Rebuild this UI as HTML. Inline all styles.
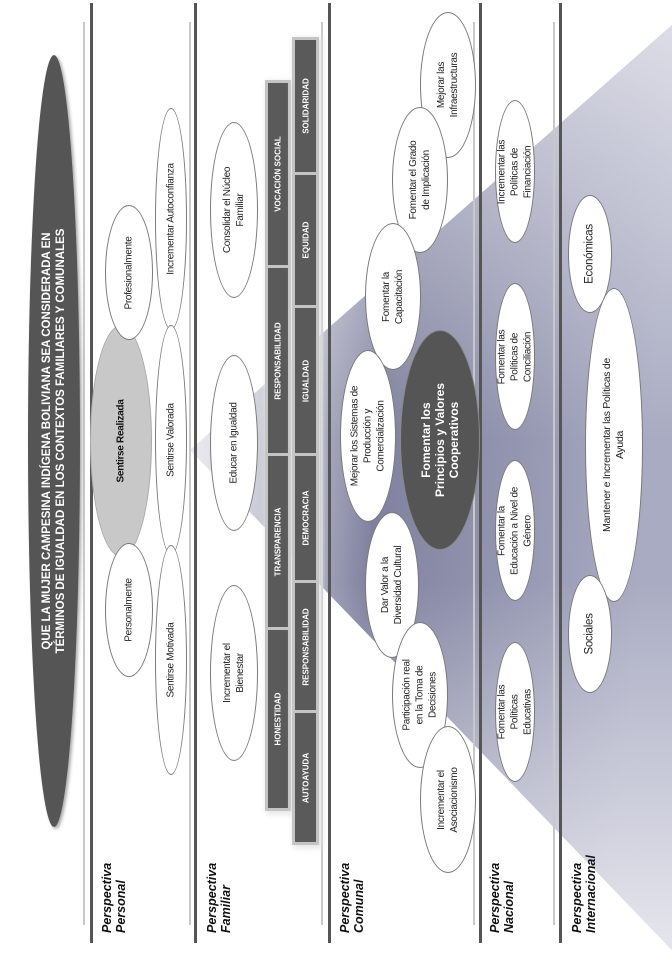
<!DOCTYPE html>
<html><head><meta charset="utf-8">
<style>
body{margin:0;width:672px;height:973px;position:relative;overflow:hidden;background:#fff;font-family:"Liberation Sans",sans-serif;}
.a{position:absolute}
.e{position:absolute;border-radius:50%;border:1px solid #7a7a7a;background:#fff;box-sizing:border-box}
.t{position:absolute;left:50%;top:50%;transform:translate(-50%,-50%) rotate(-90deg);text-align:center;font-size:10px;line-height:13px;color:#222;letter-spacing:-0.3px}
.dl{position:absolute;width:3px;background:#555}
.ll{position:absolute;width:2px;background:#c8c8c8}
.p{position:absolute;transform-origin:0 0;transform:rotate(-90deg);font-weight:bold;font-style:italic;font-size:12.5px;line-height:14px;white-space:nowrap;color:#111}
.bar{position:absolute;background:#5a5a5a;box-shadow:0 0 0 3px #c4c4c4,2px 2px 6px 4px #e4e4e4}
.seg{position:absolute;left:0;width:100%;border-top:3px solid #c4c4c4;box-sizing:border-box}
.seg span{position:absolute;left:50%;top:50%;transform:translate(-50%,-50%) rotate(-90deg);color:#fff;font-weight:bold;font-size:8px;white-space:nowrap}
</style></head><body>
<svg class="a" style="left:0;top:0" width="672" height="973">
<defs>
<linearGradient id="g" x1="0" y1="0" x2="1" y2="0.15">
<stop offset="0" stop-color="#d8d8e0" stop-opacity="0.3"/>
<stop offset="0.45" stop-color="#7f819f"/>
<stop offset="1" stop-color="#a9abc2"/>
</linearGradient>
<linearGradient id="g2" x1="0" y1="0" x2="0" y2="1">
<stop offset="0" stop-color="#fff" stop-opacity="0.6"/>
<stop offset="0.45" stop-color="#fff" stop-opacity="0"/>
<stop offset="0.6" stop-color="#fff" stop-opacity="0"/>
<stop offset="1" stop-color="#fff" stop-opacity="0.7"/>
</linearGradient>
</defs>
<polygon points="190,450 672,25 672,950" fill="url(#g)"/>
<polygon points="190,450 672,25 672,950" fill="url(#g2)"/>
</svg>

<div class="dl" style="left:90px;top:3px;height:940px"></div>
<div class="ll" style="left:83px;top:22px;height:903px"></div>
<div class="dl" style="left:194px;top:3px;height:940px"></div>
<div class="ll" style="left:189px;top:22px;height:903px"></div>
<div class="dl" style="left:328px;top:3px;height:940px"></div>
<div class="ll" style="left:321px;top:22px;height:903px"></div>
<div class="dl" style="left:479px;top:3px;height:940px"></div>
<div class="ll" style="left:473px;top:22px;height:903px"></div>
<div class="dl" style="left:559px;top:3px;height:940px"></div>
<div class="ll" style="left:553px;top:22px;height:903px"></div>

<div class="e" style="left:28px;top:55px;width:52px;border:none;background:#555;box-shadow:2px 2px 3px #aaa;height:772px"><div class="t" style="width:700px;color:#fff;font-weight:bold;font-size:11.5px;line-height:14px;letter-spacing:0">QUE LA MUJER CAMPESINA INDÍGENA BOLIVIANA SEA CONSIDERADA EN<br>TÉRMINOS DE IGUALDAD EN LOS CONTEXTOS FAMILIARES Y COMUNALES</div></div>

<div class="e" style="left:90px;top:325px;width:62px;height:232px;background:#c8c8c8;border-color:#aaa"><div class="t" style="width:200px;font-weight:bold;font-size:10px;color:#111">Sentirse Realizada</div></div>
<div class="e" style="left:105px;top:205px;width:48px;height:135px"><div class="t" style="width:120px">Profesionalmente</div></div>
<div class="e" style="left:105px;top:543px;width:48px;height:134px"><div class="t" style="width:120px">Personalmente</div></div>
<div class="e" style="left:155px;top:108px;width:32px;height:222px"><div class="t" style="width:200px">Incrementar Autoconfianza</div></div>
<div class="e" style="left:155px;top:325px;width:32px;height:230px"><div class="t" style="width:200px">Sentirse Valorada</div></div>
<div class="e" style="left:155px;top:545px;width:32px;height:230px"><div class="t" style="width:200px">Sentirse Motivada</div></div>

<div class="e" style="left:210px;top:122px;width:48px;height:176px"><div class="t" style="width:110px">Consolidar el Núcleo Familiar</div></div>
<div class="e" style="left:210px;top:355px;width:48px;height:176px"><div class="t" style="width:150px">Educar en Igualdad</div></div>
<div class="e" style="left:210px;top:585px;width:48px;height:176px"><div class="t" style="width:75px">Incrementar el Bienestar</div></div>

<div class="bar" style="left:268px;top:83px;width:20px;height:725px">
<div class="seg" style="top:0;height:182px;border-top:none"><span>VOCACIÓN SOCIAL</span></div>
<div class="seg" style="top:182px;height:188px"><span>RESPONSABILIDAD</span></div>
<div class="seg" style="top:370px;height:174px"><span>TRANSPARENCIA</span></div>
<div class="seg" style="top:544px;height:181px"><span>HONESTIDAD</span></div>
</div>
<div class="bar" style="left:295px;top:40px;width:21px;height:802px">
<div class="seg" style="top:0;height:132px;border-top:none"><span>SOLIDARIDAD</span></div>
<div class="seg" style="top:132px;height:133px"><span>EQUIDAD</span></div>
<div class="seg" style="top:265px;height:148px"><span>IGUALDAD</span></div>
<div class="seg" style="top:413px;height:127px"><span>DEMOCRACIA</span></div>
<div class="seg" style="top:540px;height:130px"><span>RESPONSABILIDAD</span></div>
<div class="seg" style="top:670px;height:132px"><span>AUTOAYUDA</span></div>
</div>

<div class="e" style="left:400px;top:330px;width:80px;height:220px;background:#555;border-color:#888"><div class="t" style="width:200px;color:#fff;font-weight:bold;font-size:12px;line-height:14px;letter-spacing:0">Fomentar los<br>Principios y Valores<br>Cooperativos</div></div>
<div class="e" style="left:420px;top:12px;width:56px;height:146px"><div class="t" style="width:80px">Mejorar las Infraestructuras</div></div>
<div class="e" style="left:392px;top:107px;width:56px;height:146px"><div class="t" style="width:90px">Fomentar el Grado de Implicación</div></div>
<div class="e" style="left:365px;top:223px;width:56px;height:147px"><div class="t" style="width:90px">Fomentar la Capacitación</div></div>
<div class="e" style="left:340px;top:350px;width:56px;height:172px"><div class="t" style="width:115px">Mejorar los Sistemas de Producción y Comercialización</div></div>
<div class="e" style="left:365px;top:512px;width:54px;height:146px"><div class="t" style="width:88px">Dar Valor a la Diversidad Cultural</div></div>
<div class="e" style="left:392px;top:622px;width:56px;height:146px"><div class="t" style="width:80px">Participación real en la Toma de Decisiones</div></div>
<div class="e" style="left:420px;top:726px;width:56px;height:147px"><div class="t" style="width:90px">Incrementar el Asociacionismo</div></div>

<div class="e" style="left:495px;top:100px;width:40px;height:143px"><div class="t" style="width:80px">Incrementar las Políticas de Financiación</div></div>
<div class="e" style="left:495px;top:283px;width:40px;height:147px"><div class="t" style="width:80px">Fomentar las Políticas de Conciliación</div></div>
<div class="e" style="left:495px;top:460px;width:40px;height:141px"><div class="t" style="width:88px">Fomentar la Educación a Nivel de Género</div></div>
<div class="e" style="left:495px;top:642px;width:40px;height:140px"><div class="t" style="width:75px">Fomentar las Políticas Educativas</div></div>

<div class="e" style="left:585px;top:288px;width:58px;height:314px"><div class="t" style="width:200px;font-size:10.5px">Mantener e Incrementar las Políticas de Ayuda</div></div>
<div class="e" style="left:568px;top:195px;width:44px;height:118px"><div class="t" style="width:100px;font-size:11.5px">Económicas</div></div>
<div class="e" style="left:568px;top:575px;width:44px;height:118px"><div class="t" style="width:100px;font-size:11.5px">Sociales</div></div>

<div class="p" style="left:100px;top:933px">Perspectiva<br>Personal</div>
<div class="p" style="left:205px;top:933px">Perspectiva<br>Familiar</div>
<div class="p" style="left:338px;top:933px">Perspectiva<br>Comunal</div>
<div class="p" style="left:488px;top:933px">Perspectiva<br>Nacional</div>
<div class="p" style="left:570px;top:933px">Perspectiva<br>Internacional</div>
</body></html>
